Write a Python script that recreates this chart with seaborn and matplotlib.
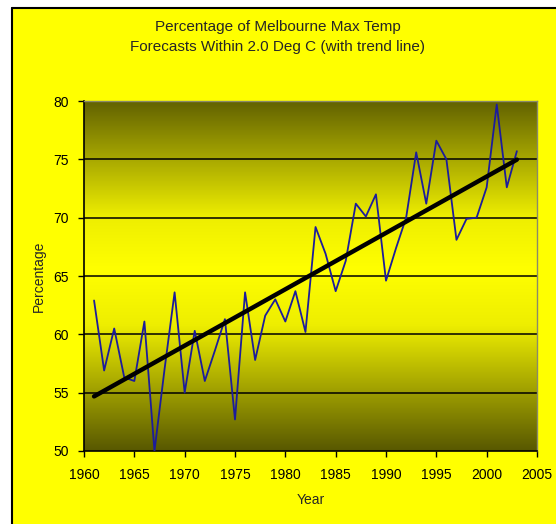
import numpy as np
import pandas as pd
import matplotlib
matplotlib.use("Agg")
import matplotlib.pyplot as plt
from matplotlib.colors import LinearSegmentedColormap
from matplotlib.patches import Rectangle
import seaborn as sns

years = list(range(1961, 2004))
percent = [62.9, 56.9, 60.5, 56.3, 56.0, 61.1, 50.0, 57.0, 63.6, 55.0,
           60.3, 56.0, 58.6, 61.3, 52.7, 63.6, 57.8, 61.6, 63.0, 61.1,
           63.7, 60.2, 69.2, 66.9, 63.7, 66.3, 71.2, 70.1, 72.0, 64.6,
           67.4, 70.0, 75.6, 71.2, 76.6, 75.0, 68.1, 69.9, 70.0, 72.6,
           79.7, 72.6, 75.7]
x_ticks = list(range(1960, 2006, 5))
y_ticks = list(range(50, 81, 5))
title = "Percentage of Melbourne Max Temp\nForecasts Within 2.0 Deg C (with trend line)"

df = pd.DataFrame({"Year": years, "Percentage": percent})

sns.set_style("white")
plt.rcParams['font.family'] = ['Liberation Sans', 'DejaVu Sans']

fig = plt.figure(figsize=(5.56, 5.24), dpi=100)
fig.patch.set_facecolor("#ffff00")
# white margin strips outside the chart border
fig.patches.append(Rectangle((0, 0), 12/556, 1, transform=fig.transFigure,
                             facecolor="white", edgecolor="none", zorder=-10))
fig.patches.append(Rectangle((0, 1 - 8/524), 1, 8/524, transform=fig.transFigure,
                             facecolor="white", edgecolor="none", zorder=-10))
fig.lines.append(plt.Line2D([12/556, 12/556], [0, 1 - 8/524], transform=fig.transFigure,
                            color="black", lw=1.5))
fig.lines.append(plt.Line2D([12/556, 1], [1 - 8/524, 1 - 8/524], transform=fig.transFigure,
                            color="black", lw=1.5))

ax = fig.add_axes([84/556, 73/524, 453/556, 350/524])

cmap = LinearSegmentedColormap.from_list(
    "grad", [(0, "#626200"), (0.33, "#eeee00"), (0.48, "#ffff00"),
             (0.64, "#eeee00"), (1, "#585800")])
grad = np.linspace(0, 1, 256).reshape(-1, 1)
ax.imshow(grad, aspect="auto", cmap=cmap, extent=[1960, 2005, 50, 80],
          origin="upper", zorder=0, interpolation="bicubic")

for yv in y_ticks[1:-1]:
    ax.axhline(yv, color="black", lw=1.1, zorder=1)

sns.lineplot(data=df, x="Year", y="Percentage", ax=ax, color="#1c1c9c", lw=1.3, zorder=3)
sns.regplot(data=df, x="Year", y="Percentage", ax=ax, scatter=False, ci=None,
            color="black", line_kws={"lw": 3.2, "zorder": 4})

ax.set_xlim(1960, 2005)
ax.set_ylim(50, 80)
ax.set_xticks(x_ticks)
ax.set_yticks(y_ticks)
ax.tick_params(axis="both", direction="out", length=4, width=1, colors="black",
               labelsize=10, left=True, bottom=True)
ax.tick_params(axis="x", pad=8)
ax.tick_params(axis="y", pad=7)
ax.set_xlabel("Year", fontsize=10, labelpad=8)
ax.set_ylabel("Percentage", fontsize=10, labelpad=5)
for s in ["left", "bottom"]:
    ax.spines[s].set_color("black")
    ax.spines[s].set_linewidth(1.2)
for s in ["top", "right"]:
    ax.spines[s].set_color("#8a8a6a")
    ax.spines[s].set_linewidth(1.0)
ax.set_facecolor("none")

fig.text(278/556, 1 - 37/524, title, ha="center", va="center", fontsize=11,
         linespacing=1.55)

fig.savefig("out.png", dpi=100, facecolor=fig.get_facecolor())
